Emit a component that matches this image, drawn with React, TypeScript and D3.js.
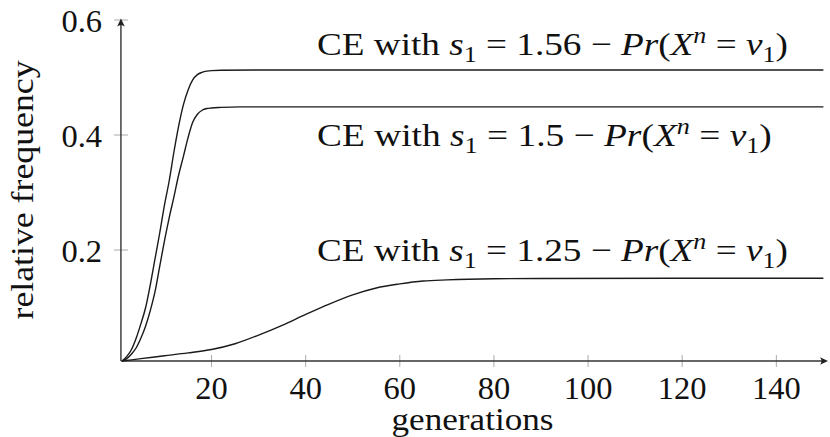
import React, { useLayoutEffect, useRef } from "react";
import * as d3 from "d3";

// ---- data ----
const genA = [1, 2, 3, 4, 5, 6, 7, 8, 9, 10, 11, 12, 13, 14, 15, 16, 17, 18, 19, 20, 22, 30, 150];
const freqA = [0.007, 0.015, 0.027, 0.047, 0.072, 0.1, 0.14, 0.185, 0.23, 0.278, 0.32, 0.37, 0.415, 0.452, 0.478, 0.496, 0.505, 0.509, 0.511, 0.512, 0.5125, 0.513, 0.513];

const genB = [1, 2, 3, 4, 5, 6, 7, 8, 9, 10, 11, 12, 13, 14, 15, 16, 17, 18, 19, 20, 22, 26, 150];
const freqB = [0.007, 0.011, 0.019, 0.03, 0.047, 0.068, 0.095, 0.128, 0.172, 0.216, 0.256, 0.292, 0.33, 0.362, 0.395, 0.422, 0.436, 0.443, 0.446, 0.447, 0.448, 0.449, 0.449];

const genC = [1, 5, 10, 15, 20, 25, 30, 35, 40, 45, 50, 55, 60, 65, 70, 80, 90, 150];
const freqC = [0.007, 0.011, 0.016, 0.021, 0.027, 0.037, 0.052, 0.069, 0.088, 0.106, 0.122, 0.134, 0.141, 0.146, 0.148, 0.15, 0.1505, 0.151];

const seriesS = ["1.56", "1.5", "1.25"];
const xTicks = [20, 40, 60, 80, 100, 120, 140];
const yTicks = [0.2, 0.4, 0.6];
const yTickLabels = ["0.2", "0.4", "0.6"];
const xLabel = "generations";
const yLabel = "relative frequency";

const W = 830;
const H = 437;
const FONT = "Liberation Serif, DejaVu Serif, serif";
const FS = 32.5;

const x = d3.scaleLinear().domain([0, 150]).range([117.4, 823.4]);
const y = d3.scaleLinear().domain([0, 0.6]).range([365, 20]);
const X_MIN = 0.75;
const Y_MIN = 0.007;

const line = d3
  .line<[number, number]>()
  .x((d) => x(d[0]))
  .y((d) => y(d[1]))
  .curve(d3.curveMonotoneX);

const zip = (g: number[], f: number[]) => g.map((v, i) => [v, f[i]] as [number, number]);
const series = [zip(genA, freqA), zip(genB, freqB), zip(genC, freqC)];

// label placement (layout)
const labelPos = [
  { x: 317, y: 55, w: 471 },
  { x: 317, y: 146, w: 455 },
  { x: 317, y: 261, w: 471 },
];

function MathLabel({ s, px, py, w }: { s: string; px: number; py: number; w: number }) {
  const sub = 6.5;
  const sup = 12;
  return (
    <g transform={`translate(${px},${py})`}>
      <text data-w={w} x={0} y={0} style={{ whiteSpace: "pre", fontFamily: FONT }} fontSize={FS} fill="#111">
        <tspan>CE with </tspan>
        <tspan fontStyle="italic">s</tspan>
        <tspan fontSize={FS * 0.7} dy={sub}>1</tspan>
        <tspan dy={-sub}>{` = ${s} \u2212 `}</tspan>
        <tspan fontStyle="italic">Pr</tspan>
        <tspan>(</tspan>
        <tspan fontStyle="italic">X</tspan>
        <tspan fontStyle="italic" fontSize={FS * 0.7} dy={-sup}>n</tspan>
        <tspan dy={sup}>{" = "}</tspan>
        <tspan fontStyle="italic">v</tspan>
        <tspan fontSize={FS * 0.7} dy={sub}>1</tspan>
        <tspan dy={-sub}>)</tspan>
      </text>
    </g>
  );
}

export default function App() {
  const ref = useRef<SVGSVGElement>(null);

  useLayoutEffect(() => {
    if (!ref.current) return;
    d3.select(ref.current)
      .selectAll<SVGTextElement, unknown>("text[data-w]")
      .each(function () {
        const target = +(this.getAttribute("data-w") || 0);
        const bw = this.getBBox().width;
        if (bw > 0 && target > 0) {
          this.setAttribute("transform", `scale(${target / bw},1)`);
        }
      });
  }, []);

  const ax = x(X_MIN);
  const ay = y(Y_MIN);
  const yTop = y(0.6) - 1.5;
  const xRight = 828;

  return (
    <div style={{ position: "fixed", left: 0, top: 0, width: W, height: H, background: "#fff" }}>
      <svg ref={ref} width={W} height={H} viewBox={`0 0 ${W} ${H}`}>
        <rect width={W} height={H} fill="#fff" />
        {/* ticks */}
        {yTicks.map((t) => (
          <line key={"yt" + t} x1={ax - 7} x2={ax + 7} y1={y(t)} y2={y(t)} stroke="#aaa" strokeWidth={1} />
        ))}
        {xTicks.map((t) => (
          <line key={"xt" + t} x1={x(t)} x2={x(t)} y1={ay - 6} y2={ay + 6} stroke="#aaa" strokeWidth={1} />
        ))}
        {/* axes */}
        <line x1={ax} x2={ax} y1={ay} y2={yTop + 5} stroke="#333" strokeWidth={1.4} />
        <path
          d={`M ${ax},${yTop} L ${ax - 3.8},${yTop + 8} Q ${ax},${yTop + 5} ${ax + 3.8},${yTop + 8} Z`}
          fill="#222"
        />
        <line x1={ax} x2={xRight - 5} y1={ay} y2={ay} stroke="#333" strokeWidth={1.4} />
        <path
          d={`M ${xRight},${ay} L ${xRight - 8},${ay - 3.8} Q ${xRight - 5},${ay} ${xRight - 8},${ay + 3.8} Z`}
          fill="#222"
        />
        {/* curves */}
        {series.map((d, i) => (
          <path key={"s" + i} d={line(d) || ""} fill="none" stroke="#1a1a1a" strokeWidth={1.4} />
        ))}
        {/* tick labels */}
        {yTicks.map((t, i) => (
          <text key={"yl" + t} x={102} y={y(t) + 11.5} textAnchor="end" style={{ fontFamily: FONT }} fontSize={FS} fill="#111">
            {yTickLabels[i]}
          </text>
        ))}
        {xTicks.map((t) => (
          <text key={"xl" + t} x={x(t)} y={399} textAnchor="middle" style={{ fontFamily: FONT }} fontSize={FS} fill="#111">
            {t}
          </text>
        ))}
        {/* axis labels */}
        <g transform={`translate(472.5,429.5)`}>
          <text data-w={162} x={0} y={0} textAnchor="middle" style={{ fontFamily: FONT }} fontSize={FS - 1} fill="#111">
            {xLabel}
          </text>
        </g>
        <g transform={`translate(33,190) rotate(-90)`}>
          <text data-w={260} x={0} y={0} textAnchor="middle" style={{ fontFamily: FONT }} fontSize={FS} fill="#111">
            {yLabel}
          </text>
        </g>
        {/* series labels */}
        {seriesS.map((s, i) => (
          <MathLabel key={"ml" + i} s={s} px={labelPos[i].x} py={labelPos[i].y} w={labelPos[i].w} />
        ))}
      </svg>
    </div>
  );
}
